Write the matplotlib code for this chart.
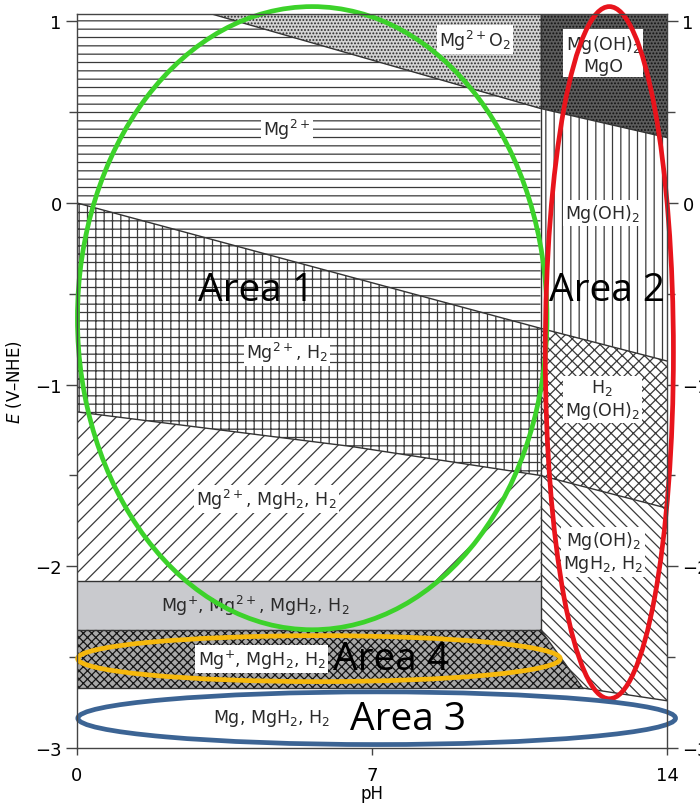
import matplotlib
matplotlib.use("Agg")
import matplotlib.pyplot as plt
from matplotlib.patches import Ellipse

plt.rcParams['font.family'] = ['DejaVu Sans']
plt.rcParams['mathtext.fontset'] = 'dejavusans'
plt.rcParams['hatch.linewidth'] = 0.9

# ---- data: boundaries of the Pourbaix diagram (pH, E in V-NHE) ----
ph_min, ph_max = 0.0, 14.0
E_min, E_max = -3.0, 1.04
ph_split = 11.0                       # Mg2+/Mg(OH)2 vertical boundary
o2_ph = [3.2, 11.0, 14.0]
o2_E = [1.04, 0.52, 0.36]
h2_ph = [0.0, 11.0, 14.0]
h2_E = [0.0, -0.69, -0.87]
mgh2_ph = [0.0, 6.5, 11.0, 14.0]
mgh2_E = [-1.15, -1.34, -1.50, -1.68]
E_mgp_top = -2.08
E_mgp_bot = -2.35
E_mg = -2.67
diag_ph = [11.0, 12.0, 14.0]
diag_E = [-2.35, -2.67, -2.74]

region_labels = [r'Mg$^{2+}$O$_2$', 'Mg(OH)$_2$\nMgO', r'Mg$^{2+}$', 'Mg(OH)$_2$',
                 r'Mg$^{2+}$, H$_2$', 'H$_2$\nMg(OH)$_2$', r'Mg$^{2+}$, MgH$_2$, H$_2$',
                 'Mg(OH)$_2$\nMgH$_2$, H$_2$', r'Mg$^{+}$, Mg$^{2+}$, MgH$_2$, H$_2$',
                 r'Mg$^{+}$, MgH$_2$, H$_2$', 'Mg, MgH$_2$, H$_2$']
label_ph = [9.45, 12.48, 4.98, 12.46, 4.98, 12.46, 4.5, 12.48, 4.22, 4.38, 4.62]
label_E = [0.90, 0.82, 0.41, -0.055, -0.82, -1.08, -1.63, -1.92, -2.21, -2.51, -2.83]
label_box = [True, True, True, True, True, True, True, True, False, True, False]

area_names = ['Area 1', 'Area 2', 'Area 4', 'Area 3']
area_ph = [4.24, 12.58, 7.45, 7.85]
area_E = [-0.48, -0.48, -2.51, -2.84]

ell_ph = [5.58, 12.63, 5.74, 7.11]
ell_E = [-0.634, -0.824, -2.508, -2.836]
ell_w = [11.14, 3.04, 11.45, 14.18]
ell_h = [3.43, 3.81, 0.253, 0.29]
ell_colors = ['#3cd22a', '#e8141c', '#f6b80c', '#3c6494']

x_ticks = [0, 7, 14]
y_ticks = [1, 0, -1, -2, -3]

# ---- figure ----
fig = plt.figure(figsize=(7.0, 8.04), dpi=100)
ax = fig.add_axes([0.110, 0.0684, 0.843, 0.9129])
ax.set_xlim(ph_min, ph_max)
ax.set_ylim(E_min, E_max)

line_c = '#333333'
hatch_c = '#3a3a3a'

def region(xs, ys, face, hatch, hcolor=hatch_c):
    ax.fill(xs, ys, facecolor=face, edgecolor=hcolor, hatch=hatch, linewidth=0, zorder=1)

# Mg2+ (horizontal lines)
region([0, 0, o2_ph[0], o2_ph[1], ph_split, h2_ph[0]],
       [h2_E[0], E_max, o2_E[0], o2_E[1], h2_E[1], h2_E[0]], 'white', '--')
# Mg2+ O2 (light dots)
region([o2_ph[0], ph_split, o2_ph[1]], [E_max, E_max, o2_E[1]], '#d4d4d4', '.....', '#2a2a2a')
# Mg(OH)2 / MgO (dark dots)
region([ph_split, ph_max, o2_ph[2], o2_ph[1]], [E_max, E_max, o2_E[2], o2_E[1]],
       '#5c5c5c', '.....', '#111111')
# Mg(OH)2 (vertical lines)
region([o2_ph[1], o2_ph[2], h2_ph[2], h2_ph[1]], [o2_E[1], o2_E[2], h2_E[2], h2_E[1]],
       'white', '||')
# Mg2+, H2 (grid)
region([h2_ph[0], h2_ph[1], mgh2_ph[2], mgh2_ph[1], mgh2_ph[0]],
       [h2_E[0], h2_E[1], mgh2_E[2], mgh2_E[1], mgh2_E[0]], 'white', '++')
# H2, Mg(OH)2 (diamonds)
region([h2_ph[1], h2_ph[2], mgh2_ph[3], mgh2_ph[2]],
       [h2_E[1], h2_E[2], mgh2_E[3], mgh2_E[2]], 'white', 'xxx')
# Mg2+, MgH2, H2 (/)
region([mgh2_ph[0], mgh2_ph[1], mgh2_ph[2], ph_split, 0],
       [mgh2_E[0], mgh2_E[1], mgh2_E[2], E_mgp_top, E_mgp_top], 'white', '//')
# Mg(OH)2, MgH2, H2 (\)
region([mgh2_ph[2], mgh2_ph[3], diag_ph[2], diag_ph[1], diag_ph[0]],
       [mgh2_E[2], mgh2_E[3], diag_E[2], diag_E[1], diag_E[0]], 'white', '\\\\\\')
# Mg+, Mg2+, MgH2, H2 (grey)
ax.fill([0, ph_split, ph_split, 0], [E_mgp_top, E_mgp_top, E_mgp_bot, E_mgp_bot],
        facecolor='#c9cace', edgecolor='none', zorder=1)
# Mg+, MgH2, H2 (dense crosshatch)
region([0, diag_ph[0], diag_ph[1], 0], [E_mgp_bot, diag_E[0], diag_E[1], E_mg],
       '#a8a8a8', 'xxxx', '#151515')

# boundary lines
lk = dict(color=line_c, lw=1.0, zorder=2)
ax.plot(o2_ph, o2_E, **lk)
ax.plot(h2_ph, h2_E, **lk)
ax.plot(mgh2_ph, mgh2_E, **lk)
ax.plot([ph_split, ph_split], [E_max, E_mgp_bot], **lk)
ax.plot(diag_ph, diag_E, **lk)
ax.plot([0, ph_split], [E_mgp_top, E_mgp_top], **lk)
ax.plot([0, ph_split], [E_mgp_bot, E_mgp_bot], **lk)
ax.plot([0, diag_ph[1]], [E_mg, E_mg], **lk)

# region labels
for t, x, y, b in zip(region_labels, label_ph, label_E, label_box):
    kw = dict(ha='center', va='center', fontsize=12.5, color='#2a2a2a', zorder=3,
              linespacing=1.15)
    if b:
        kw['bbox'] = dict(facecolor='white', edgecolor='none', pad=1.5)
    ax.text(x, y, t, **kw)

# ellipses
for x, y, w, h, c in zip(ell_ph, ell_E, ell_w, ell_h, ell_colors):
    ax.add_patch(Ellipse((x, y), w, h, fill=False, edgecolor=c, lw=3.4,
                         zorder=4, clip_on=False))

# area labels
for t, x, y in zip(area_names, area_ph, area_E):
    ax.text(x, y, t, ha='center', va='center', fontsize=28, family='Open Sans',
            color='black', zorder=5)

# axes styling
for s in ax.spines.values():
    s.set_color('#444444')
    s.set_linewidth(1.0)
    s.set_zorder(6)
ax.set_xticks(x_ticks)
ax.set_xticklabels([str(v) for v in x_ticks])
ax.set_yticks(y_ticks)
ax.set_yticklabels(['1', '0', '\u22121', '\u22122', '\u22123'])
ax.set_yticks([0.5, -0.5, -1.5, -2.5], minor=True)
ax.tick_params(axis='y', which='major', direction='out', length=8, width=1.0,
               color='#444444', labelsize=13, left=True, right=True,
               labelleft=True, labelright=True, pad=3)
ax.tick_params(axis='y', which='minor', direction='out', length=6, width=1.0,
               color='#444444', left=True, right=True)
ax.tick_params(axis='x', which='major', direction='out', length=5, width=1.0,
               color='#444444', labelsize=13, pad=8)
ax.set_xlabel('pH', fontsize=12, labelpad=0)
ax.set_ylabel(r'$E$ (V–NHE)', fontsize=12, labelpad=8)

fig.savefig('out.png', dpi=100)
